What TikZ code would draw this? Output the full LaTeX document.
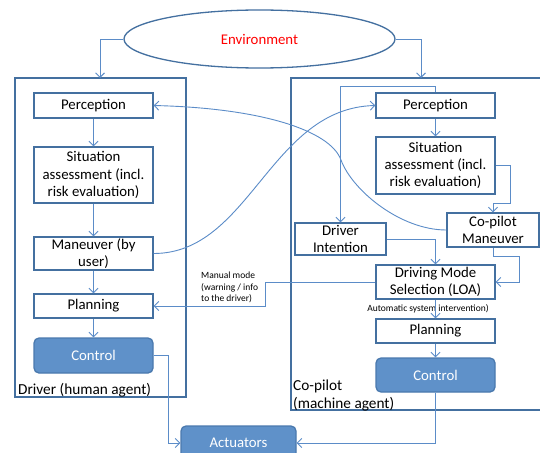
\documentclass[tikz,border=0pt]{standalone}
\usepackage{fontspec}
\setmainfont{Carlito}
\usetikzlibrary{arrows.meta,shapes.geometric}
\definecolor{lineblue}{HTML}{5B8CC8}
\definecolor{boxborder}{HTML}{4470A0}
\definecolor{fillblue}{HTML}{5F91C9}
\definecolor{ctrlborder}{HTML}{4A79AE}
\begin{document}
\begin{tikzpicture}[x=1pt,y=-1pt,
  box/.style={draw=boxborder,line width=1.3pt,fill=white,minimum width=119pt,inner sep=0pt,align=center,font=\fontsize{14.8}{17.3}\selectfont},
  ctrl/.style={box,draw=ctrlborder,fill=fillblue,text=white,rounded corners=5pt},
  container/.style={draw=boxborder,line width=1.3pt},
  arr/.style={draw=lineblue,line width=0.9pt,-{Straight Barb[length=4.5pt,width=9pt]}},
  smalltxt/.style={font=\fontsize{9.5}{11.7}\selectfont,inner sep=0pt},
  bigtxt/.style={font=\fontsize{15.3}{18}\selectfont,inner sep=0pt}]
\fill[white] (0,0) rectangle (540,452);
\useasboundingbox (0,0) rectangle (540,452);

% containers
\draw[container] (15,78) rectangle (186,397);
\draw[container] (291,78) rectangle (560,410);

% environment
\node[ellipse,draw=boxborder,line width=1.3pt,minimum width=271pt,minimum height=58pt,inner sep=0pt,text=red,font=\fontsize{14.8}{17}\selectfont] (env) at (259.5,39) {Environment};

% left column
\node[box,minimum height=25pt] (lper) at (93.5,105.5) {Perception};
\node[box,minimum height=56pt] (lsit) at (93.5,175) {Situation\\assessment (incl.\\risk evaluation)};
\node[box,minimum height=33pt] (lman) at (93.5,253.5) {Maneuver (by\\user)};
\node[box,minimum height=24pt] (lplan) at (93.5,306) {Planning};
\node[ctrl,minimum height=35pt] (lctrl) at (93.5,355.5) {Control};

% right column
\node[box,minimum height=25pt] (rper) at (435.5,105.5) {Perception};
\node[box,minimum height=57pt] (rsit) at (435.5,165.5) {Situation\\assessment (incl.\\risk evaluation)};
\node[box,minimum width=92pt,minimum height=34pt] (cman) at (493,230) {Co-pilot\\Maneuver};
\node[box,minimum width=91pt,minimum height=32pt] (dint) at (340.5,239) {Driver\\Intention};
\node[box,minimum height=34pt] (dms) at (435.5,282) {Driving Mode\\Selection (LOA)};
\node[box,minimum height=24pt] (rplan) at (435.5,331) {Planning};
\node[ctrl,minimum height=34pt] (rctrl) at (435.5,375) {Control};

% actuators
\node[ctrl,minimum width=115pt,minimum height=34pt] (act) at (238.5,443) {Actuators};

% labels
\node[bigtxt,anchor=west] (dlabel) at (18,390) {Driver (human agent)};
\node[bigtxt,anchor=west,align=left] (clabel) at (293,395) {Co-pilot\\(machine agent)};
\node[smalltxt,anchor=west,align=left] (manual) at (201,287.5) {Manual mode\\(warning / info\\to the driver)};
\node[smalltxt] (auto) at (428,309) {Automatic system intervention)};

% helper coordinates
\coordinate (dtop) at (100,78);
\coordinate (ctop) at (421,78);
\coordinate (c1) at (510,203);
\coordinate (c2) at (519,256);
\coordinate (c3) at (265,282);
\coordinate (kink) at (341,160);

% environment arrows
\draw[arr] (env.west) -| (dtop);
\draw[arr] (env.east) -| (ctop);

% left chain
\draw[arr] (lper) -- (lsit);
\draw[arr] (lsit) -- (lman);
\draw[arr] (lman) -- (lplan);
\draw[arr] (lplan) -- (lctrl);
\draw[arr] (lctrl.east) -- ++(15,0) |- (act.west);

% right chain
\draw[arr] (rper) -- (rsit);
\draw[arr] (rper.north) -- ++(0,-6) -| (dint.north);
\draw[arr] (rsit.east) -| (c1) -| (cman.north);
\draw[arr] (dint.east) -| (dms.north);
\draw[arr] (cman.south) |- (c2) |- (dms.east);
\draw[arr] (dms) -- (rplan);
\draw[arr] (rplan) -- (rctrl);
\draw[arr] (rctrl.south) |- (act.east);
\draw[arr] (dms.west) -- (c3) |- (lplan.east);

% crossing curves
\draw[arr] (lman.east) .. controls (250,253.5) and (270,108) .. (rper.west);
\draw[arr] (cman.west) .. controls (400,230) and (352,190) .. (kink) .. controls (330,130) and (260,108) .. (lper.east);
\end{tikzpicture}
\end{document}
